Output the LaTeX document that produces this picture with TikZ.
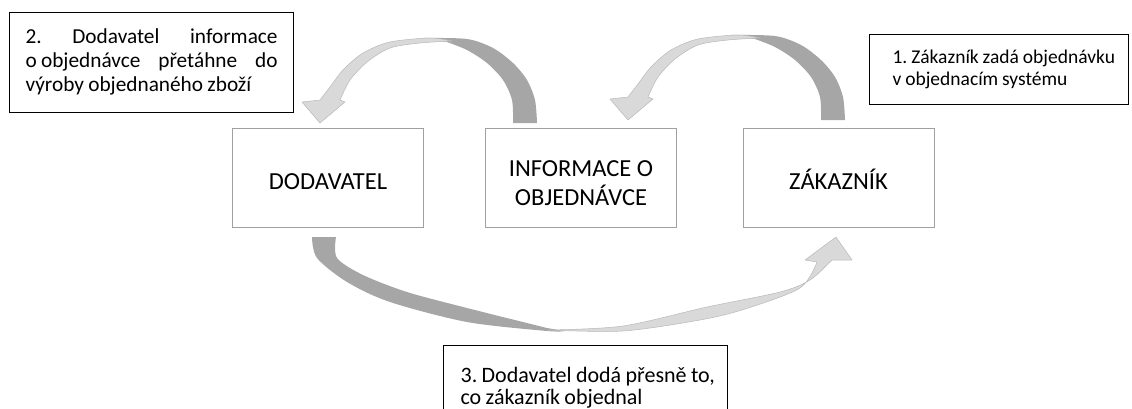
\documentclass[tikz,border=0pt]{standalone}
\usepackage{fontspec}
\setmainfont{Carlito}
\definecolor{boxgray}{HTML}{A0A0A0}
\definecolor{darkband}{HTML}{A6A6A6}
\definecolor{lightband}{HTML}{D9D9D9}
\definecolor{edgegray}{HTML}{B8B8B8}
\newcommand\tightsp{\frenchspacing\spaceskip=0.2em\relax}
\begin{document}
\begin{tikzpicture}[x=1pt,y=-1pt,
  box/.style={draw=boxgray, line width=0.9pt, minimum width=191pt, minimum height=99pt,
    inner sep=0pt, font=\fontsize{24.5}{28.5}\selectfont, align=center},
  callout/.style={draw=black, line width=1.2pt, align=left, anchor=north west},
  backband/.style={fill=darkband},
  frontband/.style={fill=lightband, draw=edgegray, line width=0.5pt, line join=round}]
\useasboundingbox (0,0) rectangle (1132,408);
\clip (0,0) rectangle (1132,408);

% main boxes
\node[box] (dod) at (328,177.5) {\rule{0pt}{24pt}DODAVATEL};
\node[box] (info) at (581,177.5) {\rule{0pt}{27pt}INFORMACE O\\OBJEDNÁVCE};
\node[box] (zak) at (838.5,177.5) {\rule{0pt}{24pt}ZÁKAZNÍK};

% callouts
\node[callout, font=\fontsize{21.3}{24}\selectfont, text width=252pt, inner xsep=16pt,
  minimum height=100pt] (c2) at (9,12)
  {\tightsp\makebox[252pt]{2.\hfill Dodavatel\hfill informace}\\
   \makebox[252pt]{o objednávce\hfill přetáhne\hfill do}\\
   výroby objednaného zboží\rule[-5pt]{0pt}{0pt}};
\node[callout, font=\fontsize{19.5}{22.5}\selectfont, text width=213pt, inner xsep=23pt,
  minimum height=70pt] (c1) at (869,34)
  {\tightsp\mbox{1. Zákazník zadá objednávku}\\ v objednacím systému};
\node[callout, font=\fontsize{22}{22}\selectfont, text width=250pt, inner xsep=17pt,
  inner ysep=21.6pt] (c3) at (443,345)
  {\tightsp\mbox{3. Dodavatel dodá přesně to,}\\ co zákazník objednal};

% curved arrow: information -> supplier
\fill[backband] plot[smooth] coordinates {(537,123)(535,100)(527,80)(513,63)(493,48)(467,39)(423,38)}
  -- plot[smooth] coordinates {(447,42)(467,50)(487,63)(503,80)(512,100)(513,123)} -- cycle;
\filldraw[frontband] plot[smooth] coordinates {(452,41)(430,38)(390,42)(363,53)(343,70)(330,87)(320,100)}
  -- (302,102) -- (320,123) -- (345,102) -- (340,100)
  -- plot[smooth] coordinates {(340,100)(350,80)(367,62)(390,48)(420,43)(452,41)} -- cycle;

% curved arrow: customer -> information
\begin{scope}[shift={(308,-3)}]
\fill[backband] plot[smooth] coordinates {(537,123)(535,100)(527,80)(513,63)(493,48)(467,39)(423,38)}
  -- plot[smooth] coordinates {(447,42)(467,50)(487,63)(503,80)(512,100)(513,123)} -- cycle;
\filldraw[frontband] plot[smooth] coordinates {(452,41)(430,38)(390,42)(363,53)(343,70)(330,87)(320,100)}
  -- (302,102) -- (320,123) -- (345,102) -- (340,100)
  -- plot[smooth] coordinates {(340,100)(350,80)(367,62)(390,48)(420,43)(452,41)} -- cycle;
\end{scope}

% curved arrow: supplier -> customer
\fill[backband] plot[smooth] coordinates {(312,237)(317,258)(347,282)(390,302)(467,322)(547,331)(565,331)}
  -- plot[smooth] coordinates {(547,328)(467,308)(407,292)(363,275)(337,258)(336,237)} -- cycle;
\filldraw[frontband] plot[smooth] coordinates {(548,330)(623,331)(700,320)(745,309)(800,288)(817,262)}
  -- (805,260) -- (836,237) -- (852,260) -- (832,260)
  -- plot[smooth] coordinates {(832,260)(810,280)(780,292)(707,307)(623,326)(548,330)} -- cycle;
\end{tikzpicture}
\end{document}
